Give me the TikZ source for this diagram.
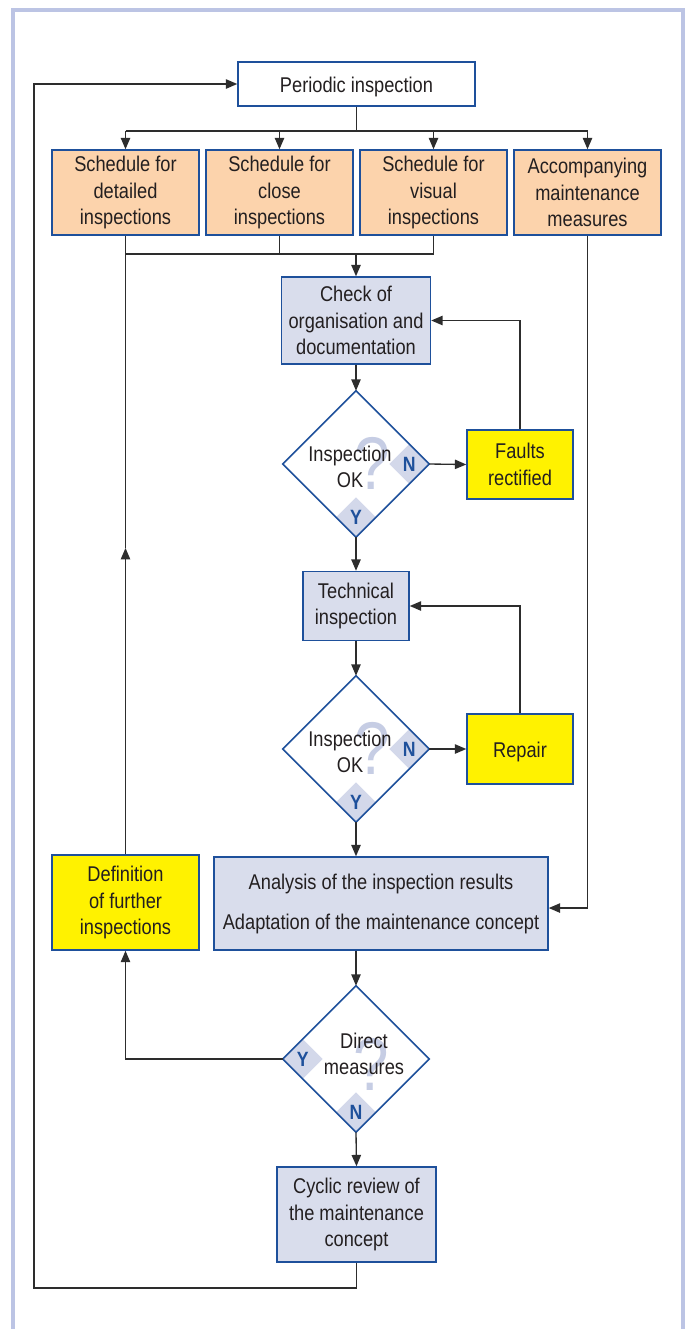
\documentclass[tikz,border=0pt]{standalone}
\usepackage{fontspec}
\setmainfont{Liberation Sans}[FakeStretch=0.855]
\usetikzlibrary{shapes.geometric,arrows.meta}

\definecolor{edgeblue}{RGB}{30,80,155}
\definecolor{peach}{RGB}{252,211,172}
\definecolor{greyblue}{RGB}{217,221,236}
\definecolor{signal}{RGB}{255,242,0}
\definecolor{frameblue}{RGB}{188,196,228}
\definecolor{patchblue}{RGB}{211,216,234}
\definecolor{qblue}{RGB}{198,205,228}
\definecolor{ink}{RGB}{35,31,32}
\definecolor{wire}{RGB}{45,45,45}

\tikzset{
  x=0.75pt, y=-0.75pt,
  txt/.style={font=\fontsize{16pt}{20pt}\selectfont, text=ink, align=center, inner sep=0pt},
  sized/.style 2 args={minimum width=#1*0.75pt, minimum height=#2*0.75pt},
  box/.style={txt, draw=edgeblue, line width=1.1pt,
    execute at begin node={\rule{0pt}{16pt}}},
  plainbox/.style={box, fill=white},
  planbox/.style={box, fill=peach},
  workbox/.style={box, fill=greyblue},
  actbox/.style={box, fill=signal},
  decfill/.style={shape=diamond, fill=white, inner sep=0pt, sized={146}{146}},
  decedge/.style={draw=edgeblue, line width=1.1pt, line join=miter},
  patch/.style={shape=diamond, fill=patchblue, inner sep=0pt, sized={40}{40},
    text=edgeblue, font=\fontsize{15.5pt}{15.5pt}\selectfont\bfseries},
  qm/.style={inner sep=0pt, text=qblue, font=\fontsize{56pt}{56pt}\selectfont},
  wireline/.style={draw=wire, line width=1pt},
  link/.style={wireline, -{Triangle[length=8.5pt,width=7pt]}},
}

\begin{document}
\begin{tikzpicture}
\useasboundingbox[fill=white] (0,0) rectangle (686,1329);

% outer frame, open at the bottom
\draw[frameblue, line width=2.4pt] (13,1329) -- (13,10) -- (683,10) -- (683,1329);

% ---------- boxes ----------
\node[plainbox, sized={237}{44}] (per) at (356.5,84) {Periodic inspection};

\node[planbox, sized={147}{85}] (s1) at (125.5,192.5) {Schedule for\\detailed\\inspections};
\node[planbox, sized={147}{85}] (s2) at (279.5,192.5) {Schedule for\\close\\inspections};
\node[planbox, sized={147}{85}] (s3) at (433.5,192.5) {Schedule for\\visual\\inspections};
\node[planbox, sized={147}{85}] (s4) at (587.5,192.5) {Accompanying\\maintenance\\measures};

\node[workbox, sized={149}{87}] (chk) at (356,320.5) {Check of\\organisation and\\documentation};
\node[actbox, sized={106}{69}] (flt) at (520,464.5) {Faults\\rectified};

\node[workbox, sized={106}{69}] (tec) at (356,606) {Technical\\inspection};
\node[actbox, sized={106}{70}] (rep) at (520,749) {Repair};

\node[workbox, sized={334}{93}] (ana) at (381,903.5)
  {Analysis of the inspection results\\[10pt]Adaptation of the maintenance concept};
\node[actbox, sized={147}{95}] (def) at (125.5,902.5) {Definition\\of further\\inspections};

\node[workbox, sized={159}{95}] (cyc) at (356.5,1214.5) {Cyclic review of\\the maintenance\\concept};

% ---------- decision 1 ----------
\node[decfill] (d1) at (356,464) {};
\node[qm] (q1) at (372,463) {?};
\node[patch] (n1) at ([xshift=-15pt]d1.east) {N};
\node[patch] (y1) at ([yshift=15pt]d1.south) {Y};
\node[txt] (t1) at (350,467) {Inspection\\OK};
\draw[decedge] (d1.north) -- (d1.east) -- (d1.south) -- (d1.west) -- cycle;

% ---------- decision 2 ----------
\node[decfill] (d2) at (356,749) {};
\node[qm] (q2) at (372,748) {?};
\node[patch] (n2) at ([xshift=-15pt]d2.east) {N};
\node[patch] (y2) at ([yshift=15pt]d2.south) {Y};
\node[txt] (t2) at (350,752) {Inspection\\OK};
\draw[decedge] (d2.north) -- (d2.east) -- (d2.south) -- (d2.west) -- cycle;

% ---------- decision 3 ----------
\node[decfill] (d3) at (356,1059) {};
\node[qm] (q3) at (371,1064) {?};
\node[patch] (y3) at ([xshift=15pt]d3.west) {Y};
\node[patch] (n3) at ([yshift=15pt]d3.south) {N};
\node[txt] (t3) at (364,1054) {Direct\\measures};
\draw[decedge] (d3.north) -- (d3.east) -- (d3.south) -- (d3.west) -- cycle;

% ---------- connectors ----------
\coordinate (br) at (356.5,131);
\coordinate (mg) at (356,254);
\coordinate (up) at (125.5,548);
\coordinate (lb) at (34,1288);

% distribution to the four schedules
\draw[wireline] (per.south) -- (br);
\draw[wireline] (s1.north |- br) -- (s4.north |- br);
\draw[link] (s1.north |- br) -- (s1.north);
\draw[link] (s2.north |- br) -- (s2.north);
\draw[link] (s3.north |- br) -- (s3.north);
\draw[link] (s4.north |- br) -- (s4.north);

% merge of the three schedules
\draw[wireline] (s1.south) -- (s1.south |- mg) -- (s3.south |- mg) -- (s3.south);
\draw[wireline] (s2.south) -- (s2.south |- mg);
\draw[link] (chk.north |- mg) -- (chk.north);

% organisation check loop
\draw[link] (chk.south) -- (d1.north);
\draw[link] (d1.east) -- (flt.west);
\draw[link] (flt.north) |- (chk.east);

% technical inspection loop
\draw[link] (d1.south) -- (tec.north);
\draw[link] (tec.south) -- (d2.north);
\draw[link] (d2.east) -- (rep.west);
\draw[link] (rep.north) |- (tec.east);

% analysis
\draw[link] (d2.south) -- (d2.south |- ana.north);
\draw[link] (s4.south) |- ([yshift=-3.4pt]ana.east);
\draw[link] (d2.south |- ana.south) -- (d3.north);

% direct measures
\draw[link] (d3.west) -| (def.south);
\draw[link] (def.north) -- (up);
\draw[wireline] (up) -- (def.north |- mg);

% cyclic review back to periodic inspection
\draw[link] (d3.south) -- (cyc.north);
\draw[link] (cyc.south) |- (lb) |- (per.west);
\end{tikzpicture}
\end{document}
